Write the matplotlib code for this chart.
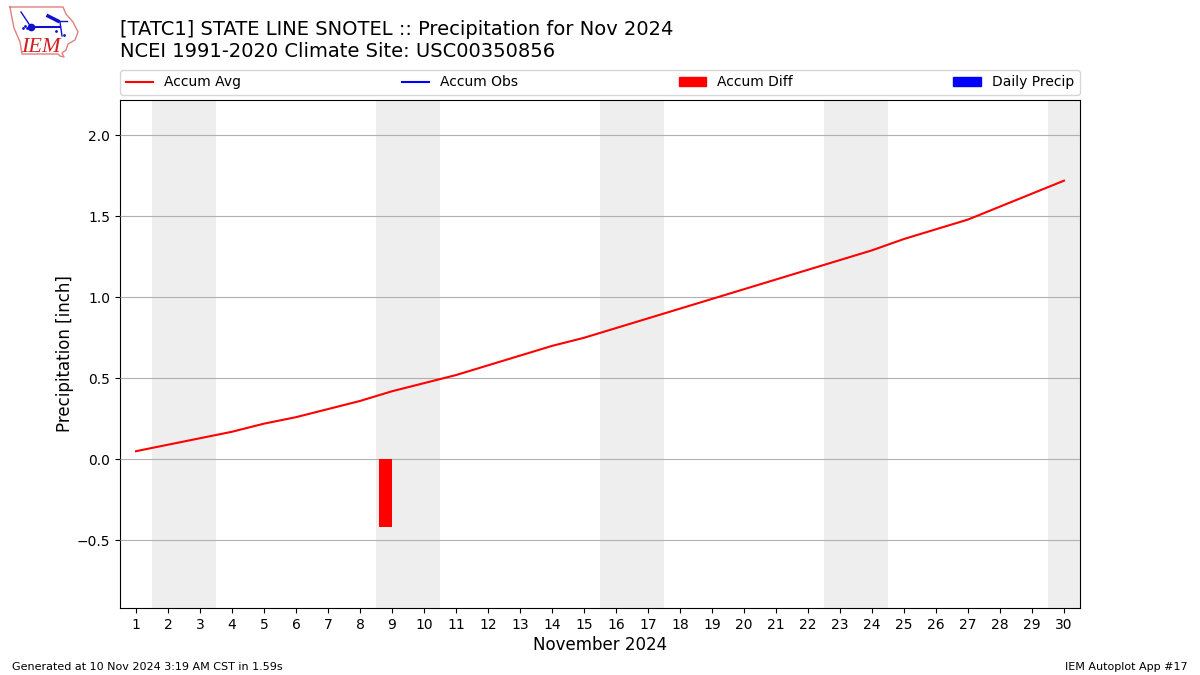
import matplotlib
matplotlib.use("Agg")
import matplotlib.pyplot as plt
from matplotlib.patches import Patch

days = list(range(1, 31))
accum_avg = [0.05, 0.09, 0.13, 0.17, 0.22, 0.26, 0.31, 0.36, 0.42, 0.47,
             0.52, 0.58, 0.64, 0.70, 0.75, 0.81, 0.87, 0.93, 0.99, 1.05,
             1.11, 1.17, 1.23, 1.29, 1.36, 1.42, 1.48, 1.56, 1.64, 1.72]
diff_days = [9]
accum_diff = [-0.42]
weekends = [(1.5, 3.5), (8.5, 10.5), (15.5, 17.5), (22.5, 24.5), (29.5, 30.5)]
yticks = [-0.5, 0.0, 0.5, 1.0, 1.5, 2.0]

W, H = 1200, 675
fig = plt.figure(figsize=(12, 6.75), dpi=100)
ax = fig.add_axes([120 / W, 1 - 608 / H, 960 / W, 508 / H])

for lo, hi in weekends:
    ax.axvspan(lo, hi, color="#eeeeee", lw=0, zorder=1)
ax.bar(diff_days, accum_diff, width=-0.4, align="edge", color="r", zorder=3)
line_avg, = ax.plot(days, accum_avg, color="r", lw=1.5, zorder=4)
line_obs, = ax.plot([], [], color="b", lw=1.5)

ax.set_xlim(0.5, 30.5)
ax.set_ylim(-0.918, 2.218)
ax.set_xticks(days)
ax.set_yticks(yticks)
ax.grid(axis="y", color="#b0b0b0", lw=0.8, zorder=2)
ax.set_axisbelow(False)
ax.set_xlabel("November 2024", fontsize=12, labelpad=3)
ax.set_ylabel("Precipitation [inch]", fontsize=12, labelpad=2)

handles = [line_avg, line_obs, Patch(color="r"), Patch(color="b")]
labels = ["Accum Avg", "Accum Obs", "Accum Diff", "Daily Precip"]
ax.legend(handles, labels, ncol=4, mode="expand", loc="lower left",
          bbox_to_anchor=(0, 1.01, 1, 0.05), borderaxespad=0, fontsize=10)

fig.text(120 / W, 1 - 35 / H, "[TATC1] STATE LINE SNOTEL :: Precipitation for Nov 2024", fontsize=14)
fig.text(120 / W, 1 - 57 / H, "NCEI 1991-2020 Climate Site: USC00350856", fontsize=14)
fig.text(12 / W, 1 - 670 / H, "Generated at 10 Nov 2024 3:19 AM CST in 1.59s", fontsize=8)
fig.text(1188 / W, 1 - 670 / H, "IEM Autoplot App #17", fontsize=8, ha="right")

# rough IEM logo, in pixel coordinates
logo = fig.add_axes([0, 1 - 60 / H, 85 / W, 60 / H])
logo.set_xlim(0, 85)
logo.set_ylim(60, 0)
logo.axis("off")
state_x = [10, 63, 66, 73, 78, 75, 68, 66, 62, 64, 60, 58, 22, 20, 14, 12, 10]
state_y = [7, 7, 14, 22, 32, 40, 44, 50, 53, 57, 56, 54, 54, 42, 28, 18, 7]
logo.plot(state_x, state_y, color="#e08080", lw=1)
logo.plot([31, 60], [27, 27], color="#1010d0", lw=1.5)
logo.plot([21, 31], [12, 27], color="#1010d0", lw=1)
logo.plot([31], [27], "o", color="#1010d0", ms=4.5)
logo.plot([48, 58], [16, 21], color="#1010d0", lw=2.5)
logo.plot([56, 67], [21, 21], color="#1010d0", lw=1)
logo.plot([60, 62], [22, 36], color="#1010d0", lw=1)
logo.plot([23, 25, 27, 56, 64], [28, 26, 28, 31, 35], ".", color="#1010d0", ms=2)
logo.text(21, 52, "IEM", color="#d02020", fontsize=16, family="Liberation Serif", style="italic")

fig.savefig("out.png", dpi=100)
